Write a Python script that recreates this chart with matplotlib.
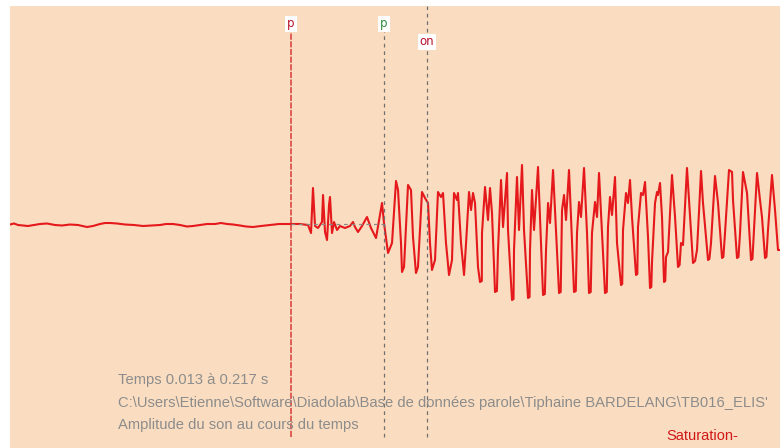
import matplotlib
matplotlib.use("Agg")
import matplotlib.pyplot as plt

# ---- data (time in ms, amplitude in arbitrary units) ----
t_ms = [13.00, 14.06, 15.12, 16.44, 17.77, 19.36, 20.95, 22.80, 24.92, 26.78,
        28.90, 31.02, 33.40, 34.99, 36.84, 38.17, 39.49, 41.35, 43.47, 45.85,
        48.24, 50.36, 52.74, 54.33, 56.19, 58.04, 59.89, 61.48, 63.34, 65.19,
        67.31, 68.90, 70.49, 72.08, 73.94, 75.53, 77.38, 79.50, 81.88, 84.27,
        86.39, 87.45, 89.83, 91.95, 92.75, 93.27, 93.81, 94.60, 95.66, 95.93,
        96.46, 96.99, 97.52, 97.78, 98.31, 98.84, 99.64, 100.43, 101.75, 103.08,
        103.87, 104.40, 105.20, 106.26, 107.58, 108.64, 109.97, 111.03, 111.56, 112.09,
        113.15, 114.21, 115.27, 115.80, 116.59, 116.86, 117.39, 118.45, 119.24, 119.77,
        120.56, 121.09, 122.15, 122.95, 123.74, 124.27, 124.80, 125.60, 126.39, 127.18,
        127.72, 128.51, 129.31, 130.10, 130.63, 131.43, 131.69, 132.49, 133.29, 133.81,
        134.61, 135.14, 135.67, 136.20, 136.99, 137.52, 138.05, 138.85, 139.64, 140.17,
        140.70, 141.50, 142.29, 143.09, 143.62, 144.68, 144.94, 146.00, 146.53, 147.32,
        147.85, 148.65, 149.18, 150.24, 150.77, 151.30, 151.83, 152.89, 153.42, 154.22,
        155.01, 155.55, 156.07, 156.87, 157.67, 158.46, 159.25, 159.78, 160.31, 161.10,
        161.63, 162.43, 163.22, 163.75, 164.28, 165.08, 165.87, 166.40, 167.19, 167.99,
        168.52, 169.05, 169.84, 170.64, 171.43, 171.96, 172.49, 173.29, 173.82, 174.88,
        175.41, 176.20, 176.73, 177.26, 177.79, 178.85, 179.38, 180.18, 180.71, 181.24,
        182.03, 182.56, 183.09, 183.89, 184.42, 184.68, 185.21, 185.74, 186.27, 186.80,
        187.33, 188.39, 189.19, 189.98, 190.77, 191.30, 192.36, 192.89, 193.95, 195.01,
        195.54, 196.07, 196.60, 197.93, 198.72, 199.78, 200.58, 201.64, 202.43, 203.49,
        204.29, 204.55, 205.61, 206.41, 207.20, 208.26, 209.32, 210.11, 210.91, 211.70,
        212.23, 213.03, 213.82, 214.88, 215.68, 216.47, 217.00]
amplitude = [-0.5, 0.5, -1, -1.5, -2, -1, 0, 0.5, -1, -1.5,
             -0.5, -1, -3, -2, 0, 1, 1, 0.5, -0.5, -1,
             -2, -1.5, -1, 0, 0, -1, -2.5, -2, -1, 0,
             0, 1, 0, -0.5, -1.5, -2.5, -3, -2, -1, 0,
             0, 0, 0, -1, -9, 36, -2, -4, 2, 29,
             -8, -16, 19, 27, -9, 2, -6, -2, -4, -2,
             2, -3, -8, -2, 7, -4, -14, 9, 21, 1,
             -29, -19, 43, 34, -19, -48, -43, 39, 34, -13,
             -49, -43, 32, 26, 21, -19, -46, -36, 32, 27,
             31, -19, -51, -36, 31, 24, 31, -19, -51, -20,
             32, 14, 31, 21, -43, -58, -9, 37, 4, 36,
             11, -68, -26, 44, -3, 51, -6, -76, -26, 47,
             -6, 59, -6, -74, -26, 34, -6, 57, 7, -71,
             -26, 21, 1, 54, -9, -69, 14, 29, 4, 54,
             7, -68, -9, 22, 7, 56, -9, -69, -9, 22,
             7, 51, -9, -69, -3, 27, 9, 47, -19, -61,
             -6, 31, 21, 44, 7, -51, -3, 31, 29, 42,
             -13, -64, -38, 21, 32, 29, 41, 7, -58, -33,
             -28, 49, 7, -43, -19, -21, 56, 24, -39, -26,
             12, 53, 21, -36, -19, 48, 21, -34, -9, 54,
             52, 24, -34, -9, 52, 31, -36, -6, 51, 24,
             7, -34, -6, 49, 14, -26, -26]

# extra samples read at the flat bottoms of the troughs
trough_t_ms = [138.00, 142.00, 146.40, 150.65, 154.70, 158.90, 162.90, 166.85,
               171.10, 175.20, 179.20, 182.90, 186.60, 190.40, 194.50, 198.30,
               202.00, 206.00, 209.70, 213.40]
trough_amp = [-57, -67, -75, -73, -70, -68, -67, -68,
              -68, -60, -50, -63, -57, -41, -37, -35,
              -33, -33, -35, -33]

marker_labels = ["p", "p", "on"]
marker_times = [87.45, 112.09, 123.48]
marker_colors = ["#B8102C", "#2E8B3A", "#B8102C"]
marker_line_colors = ["#D83A3A", "#707070", "#707070"]
marker_line_styles = [(0, (4, 1)), (0, (3, 3)), (0, (3, 3))]
marker_line_widths = [1.1, 0.9, 0.9]

info_lines = ["Temps 0.013 à 0.217 s",
              "C:\\Users\\Etienne\\Software\\Diadolab\\Base de données parole\\Tiphaine BARDELANG\\TB016_ELIS'",
              "Amplitude du son au cours du temps"]
saturation_label = "Saturation-"

# merge the samples in time order
samples = sorted(zip(t_ms + trough_t_ms, amplitude + trough_amp))
wave_t = [s[0] for s in samples]
wave_a = [s[1] for s in samples]

# ---- figure ----
W, H = 780, 448
fig = plt.figure(figsize=(W / 100, H / 100), dpi=100)
fig.patch.set_facecolor("white")
bg = "#FADDC0"
left_px, top_px = 10, 6
ax = fig.add_axes([left_px / W, 0, 1 - left_px / W, 1 - top_px / H])
ax.set_facecolor(bg)
for s in ax.spines.values():
    s.set_visible(False)
ax.set_xticks([])
ax.set_yticks([])
ax.set_xlim(13, 217)
ax.set_ylim(-224, 218)

ax.plot(wave_t, wave_a, color="#E5181C", lw=1.5, zorder=3, solid_joinstyle="round")

# baseline dashed segment between the two first markers
ax.plot([marker_times[0], marker_times[1]], [0, 0], color="#8A8A8A", lw=0.9,
        ls=(0, (3, 3)), zorder=4)

# vertical markers
label_y = [200, 200, 182]
line_top = [193, 193, 218]
for lab, tm, c, lc, lstyle, lw, ly, lt in zip(marker_labels, marker_times, marker_colors,
                                              marker_line_colors, marker_line_styles,
                                              marker_line_widths, label_y, line_top):
    ax.plot([tm, tm], [-213, lt], color=lc, lw=lw, ls=lstyle, zorder=5)
    ax.text(tm, ly, lab, color=c, fontsize=8.5, ha="center", va="center",
            family=["DejaVu Sans"], zorder=6,
            bbox=dict(boxstyle="square,pad=0.15", fc="white", ec="none"))

# info text
narrow = ["Liberation Sans Narrow", "Liberation Sans", "DejaVu Sans"]
ys = [380, 403, 425]
for line, y in zip(info_lines, ys):
    fig.text(118 / W, 1 - y / H, line, color="#8C8C8C", fontsize=10.6,
             ha="left", va="center", family=narrow)
fig.text(666 / W, 1 - 436 / H, saturation_label, color="#D01818", fontsize=10.5,
         ha="left", va="center", family=narrow)

fig.savefig("out.png", dpi=100, facecolor=fig.get_facecolor())
